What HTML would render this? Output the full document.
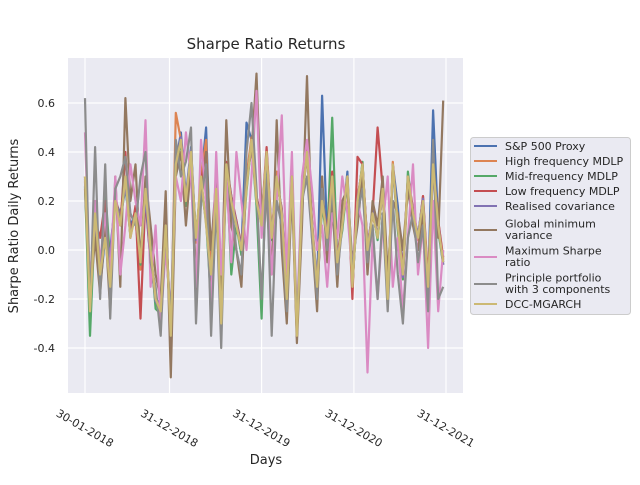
<!DOCTYPE html>
<html><head><meta charset="utf-8"><style>
body{margin:0;background:#fff;font-family:"Liberation Sans","DejaVu Sans",sans-serif}
svg text{font-family:"DejaVu Sans","Liberation Sans",sans-serif;fill:#262626}
</style></head><body>
<svg id="chart" width="640" height="480">
<rect x="0" y="0" width="640" height="480" fill="#fff"/>
<text x="266" y="49" font-size="15" text-anchor="middle">Sharpe Ratio Returns</text>
<rect x="68" y="58" width="395" height="335" fill="#eaeaf2"/>
<g id="grid"></g><g id="series"></g><g id="axes"></g>
<text x="266" y="464" font-size="13" text-anchor="middle">Days</text>
<text transform="translate(18,226) rotate(-90)" font-size="13" text-anchor="middle">Sharpe Ratio Daily Returns</text>
<g>
<rect x="470.5" y="137.5" width="160" height="177" rx="3" fill="#eaeaf2" stroke="#cccccc" stroke-width="1"/>
<g id="legend-items"></g></g>
</svg>
<script>
const xTickDays=[0,335,700,1066,1431];
const xTickLabels=["30-01-2018","31-12-2018","31-12-2019","31-12-2020","31-12-2021"];
const yTicks=[-0.4,-0.2,0.0,0.2,0.4,0.6];
const seriesNames=["S&P 500 Proxy","High frequency MDLP","Mid-frequency MDLP","Low frequency MDLP","Realised covariance","Global minimum\nvariance","Maximum Sharpe\nratio","Principle portfolio\nwith 3 components","DCC-MGARCH"];
const colors=["#4c72b0","#dd8452","#55a868","#c44e52","#8172b3","#937860","#da8bc3","#8c8c8c","#ccb974"];
const stepDays=20;
const sp500=[0.30,-0.22,0.10,-0.15,0.05,0.00,0.20,0.15,0.25,0.10,0.15,-0.05,0.20,-0.05,-0.20,-0.22,0.08,-0.35,0.35,0.48,0.22,0.42,0.05,0.28,0.50,-0.10,0.25,-0.30,0.35,0.22,0.10,0.00,0.52,0.45,0.20,0.12,0.40,0.05,0.30,0.15,-0.20,0.30,-0.35,0.20,0.40,0.10,-0.15,0.63,0.05,0.30,-0.05,0.10,0.32,-0.15,0.20,0.35,0.00,0.15,0.05,0.25,-0.20,0.35,0.18,-0.10,0.30,0.15,0.05,0.20,-0.15,0.57,0.10,-0.05];
const highMdlp=[0.28,-0.25,0.12,-0.12,0.08,-0.05,0.22,0.12,0.28,0.08,0.12,-0.08,0.22,-0.02,-0.22,-0.25,0.10,-0.36,0.56,0.45,0.20,0.40,0.03,0.30,0.45,-0.12,0.26,-0.32,0.34,0.20,0.12,-0.02,0.30,0.46,0.22,0.10,0.38,0.06,0.32,0.14,-0.22,0.28,-0.36,0.22,0.38,0.12,-0.14,0.20,0.06,0.28,-0.06,0.12,0.30,-0.16,0.22,0.33,0.02,0.14,0.06,0.24,-0.22,0.36,0.10,-0.12,0.28,0.16,0.04,0.22,-0.16,0.34,0.12,-0.04];
const midMdlp=[0.26,-0.35,0.14,-0.14,0.25,-0.05,0.20,0.12,0.26,0.06,0.16,-0.06,0.24,0.02,-0.24,-0.26,0.12,-0.34,0.34,0.44,0.18,0.38,0.06,0.26,0.12,-0.22,0.24,-0.28,0.36,-0.10,0.10,-0.02,0.24,0.44,0.18,-0.28,0.40,0.04,0.30,0.16,-0.18,0.32,-0.34,0.20,0.42,0.08,-0.16,0.18,0.04,0.54,-0.04,0.08,0.28,-0.14,0.18,0.36,-0.02,0.16,0.04,0.26,-0.18,0.34,0.08,-0.12,0.32,0.14,0.06,0.18,-0.14,0.36,0.08,-0.06];
const lowMdlp=[0.30,-0.20,0.12,0.05,0.20,-0.10,0.22,0.10,0.40,0.05,0.18,-0.28,0.22,-0.05,-0.18,-0.28,0.12,-0.34,0.34,0.46,0.20,0.40,-0.20,0.28,0.40,-0.30,0.28,-0.30,0.36,0.22,0.12,0.02,0.26,0.44,0.22,0.12,0.42,0.07,0.28,0.17,-0.22,0.30,-0.34,0.22,0.42,0.12,-0.20,0.22,0.07,0.32,-0.03,0.12,0.30,-0.20,0.38,0.35,0.02,0.15,0.50,0.25,-0.18,0.35,0.10,-0.08,0.30,0.17,0.05,0.22,-0.12,0.35,0.12,-0.03];
const realisedCov=[0.29,-0.24,0.14,-0.11,0.06,-0.02,0.21,0.11,0.27,0.06,0.14,-0.04,0.21,-0.01,-0.21,-0.24,0.09,-0.34,0.34,0.46,0.21,0.41,0.04,0.29,0.11,-0.11,0.24,-0.31,0.34,0.21,0.11,0.01,0.26,0.44,0.21,0.11,0.39,0.06,0.29,0.16,-0.21,0.29,-0.34,0.21,0.39,0.11,-0.14,0.21,0.06,0.29,-0.04,0.11,0.29,-0.14,0.21,0.34,0.01,0.16,0.06,0.24,-0.21,0.34,0.11,-0.11,0.29,0.16,0.06,0.21,-0.16,0.34,0.11,-0.06];
const globalMinVar=[0.25,-0.20,0.05,-0.18,0.10,-0.25,0.30,-0.15,0.62,0.20,0.35,-0.05,0.30,0.10,-0.10,-0.20,0.24,-0.52,0.30,0.40,0.10,0.35,-0.10,0.20,0.40,0.00,0.30,-0.20,0.53,0.10,0.00,-0.15,0.30,0.40,0.72,0.15,0.20,-0.10,0.53,0.00,-0.30,0.25,-0.38,0.10,0.71,0.05,-0.25,0.30,-0.05,0.20,-0.15,0.20,0.25,-0.05,0.10,0.30,-0.10,0.20,0.10,0.30,-0.10,0.20,0.15,0.00,0.25,0.10,0.00,0.15,-0.20,0.40,0.05,0.61];
const maxSharpe=[0.48,-0.15,0.20,-0.05,0.15,-0.10,0.30,-0.10,0.10,0.35,0.20,0.10,0.53,-0.15,0.10,-0.30,0.00,-0.25,0.30,0.20,0.48,0.30,-0.15,0.45,0.20,-0.25,0.40,-0.10,0.30,-0.05,0.40,0.20,0.00,0.30,0.65,0.05,0.30,-0.10,0.20,0.55,-0.10,0.40,-0.30,0.30,0.45,0.25,0.00,0.10,-0.15,0.15,0.05,0.30,0.15,-0.10,0.20,0.10,-0.50,0.05,-0.20,0.10,0.30,-0.15,0.05,-0.25,0.05,0.35,-0.10,0.10,-0.40,0.20,-0.25,0.00];
const principal3=[0.62,-0.25,0.42,-0.20,0.35,-0.28,0.25,0.30,0.38,0.15,0.10,0.30,0.40,-0.05,-0.15,-0.35,0.10,-0.30,0.45,0.30,0.36,0.50,-0.30,0.20,0.35,-0.35,0.20,-0.40,0.35,0.20,0.00,-0.10,0.40,0.60,0.25,-0.20,0.30,-0.35,0.20,0.10,-0.25,0.30,-0.30,0.20,0.30,0.05,-0.20,0.25,0.00,0.25,-0.10,0.10,0.30,-0.10,0.15,0.25,-0.05,0.10,-0.20,0.15,-0.25,0.20,-0.10,-0.30,0.05,0.15,-0.05,0.10,-0.25,0.45,-0.20,-0.15];
const dccMgarch=[0.30,-0.25,0.15,-0.10,0.05,-0.15,0.20,0.10,0.30,0.05,0.15,-0.05,0.25,0.00,-0.20,-0.25,0.10,-0.35,0.35,0.45,0.20,0.40,0.05,0.30,0.10,-0.10,0.25,-0.30,0.35,0.20,0.10,0.00,0.25,0.45,0.20,0.10,0.40,0.05,0.30,0.15,-0.20,0.30,-0.35,0.20,0.40,0.10,-0.15,0.20,0.05,0.30,-0.05,0.10,0.30,-0.15,0.20,0.35,0.00,0.15,0.05,0.25,-0.20,0.35,0.10,-0.10,0.30,0.15,0.05,0.20,-0.15,0.35,0.10,-0.05];
const allSeries=[sp500,highMdlp,midMdlp,lowMdlp,realisedCov,globalMinVar,maxSharpe,principal3,dccMgarch];
const seriesKeys=["sp500","high-mdlp","mid-mdlp","low-mdlp","realised-cov","global-min-var","max-sharpe","principal-3","dcc-mgarch"];

const NS="http://www.w3.org/2000/svg";
const X0=85,X1=446,D1=1431;
function xs(d){return X0+(d/D1)*(X1-X0);}
function ys(v){return 250-v*245;}
function mk(t,a,p){const e=document.createElementNS(NS,t);for(const k in a)e.setAttribute(k,a[k]);p.appendChild(e);return e;}
const grid=document.getElementById('grid'),axes=document.getElementById('axes'),ser=document.getElementById('series'),leg=document.getElementById('legend-items');
yTicks.forEach(v=>{
  const l=mk('line',{x1:68,x2:463,y1:ys(v),y2:ys(v),stroke:'#fff','stroke-width':1.2},grid);
  
  
  const t=mk('text',{x:55,y:ys(v)+4,'font-size':11,'text-anchor':'end'},axes);
  t.textContent=v.toFixed(1);
  
  
});
xTickDays.forEach((d,i)=>{
  const l=mk('line',{x1:xs(d),x2:xs(d),y1:58,y2:393,stroke:'#fff','stroke-width':1.2},grid);
  
  
  const x=xs(d),y=428;
  const t=mk('text',{x:x,y:y+4,'font-size':11,'text-anchor':'middle',transform:`rotate(30 ${x} ${y})`},axes);
  t.textContent=xTickLabels[i];
  
  
});
allSeries.forEach((arr,si)=>{
  const pts=arr.map((v,i)=>xs(Math.min(i*stepDays,D1)).toFixed(1)+','+ys(v).toFixed(1)).join(' ');
  const p=mk('polyline',{points:pts,fill:'none',stroke:colors[si],'stroke-width':2.2,'stroke-linejoin':'round'},ser);
  
  
});
const legY=[146,161,176,191,206,230,257,284,304];
seriesNames.forEach((n,i)=>{
  const l=mk('line',{x1:474,x2:497,y1:legY[i],y2:legY[i],stroke:colors[i],'stroke-width':2},leg);
  
  
  const lines=n.split('\n');
  const y0=lines.length>1?legY[i]-2.5:legY[i]+4;
  const t=mk('text',{x:505,y:y0,'font-size':11},leg);
  
  
  lines.forEach((s,j)=>{const ts=mk('tspan',{x:505,dy:j?11.5:0},t);ts.textContent=s;});
});
</script>
</body></html>
